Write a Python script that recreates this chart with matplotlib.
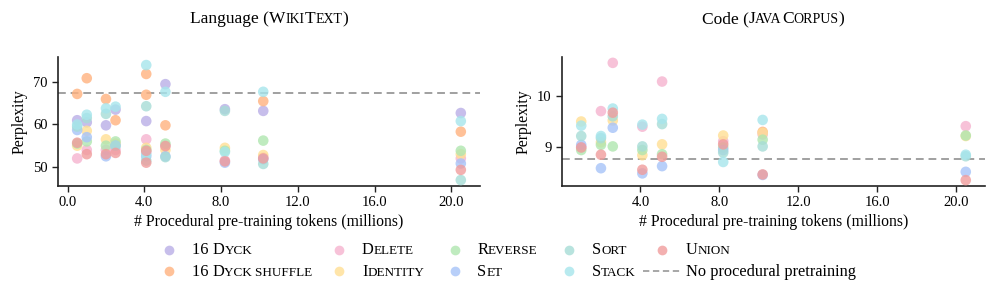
import numpy as np
import matplotlib
matplotlib.use("Agg")
import matplotlib.pyplot as plt
from matplotlib.lines import Line2D
from matplotlib.offsetbox import TextArea, HPacker, AnnotationBbox
from matplotlib.ticker import MultipleLocator, FormatStrFormatter

plt.rcParams['font.family'] = ['Liberation Serif', 'DejaVu Serif']

nan = np.nan

# ---- data: Language (WikiText) ----
lang_x = [0.5, 1.0, 2.0, 2.5, 4.1, 4.1, 5.1, 8.2, 10.2, 20.5]
lang_dyck     = [61.0, 60.5, 59.8, 63.5, 60.8, nan, 69.5, 63.6, 63.2, 62.7]
lang_shuffle  = [67.2, 70.9, 66.0, 61.0, 71.9, 67.0, 59.8, nan, 65.5, 58.3]
lang_delete   = [52.0, 54.0, 54.0, 54.0, 56.5, 53.5, 55.0, 51.5, 52.2, 52.0]
lang_identity = [55.0, 58.5, 56.5, 55.5, 54.5, nan, 54.0, 54.5, 52.8, 53.0]
lang_reverse  = [55.5, 56.0, 55.0, 56.0, 54.0, nan, 55.5, 53.8, 56.2, 53.8]
lang_set      = [58.7, 57.0, 52.5, 55.0, 52.5, nan, 52.5, 51.0, 51.8, 50.8]
lang_sort     = [59.5, 61.5, 62.5, 55.0, 64.3, 51.5, 52.3, 63.2, 50.7, 46.9]
lang_stack    = [60.0, 62.3, 63.8, 64.2, 74.0, 53.0, 67.7, 53.5, 67.7, 60.8]
lang_union    = [55.7, 53.0, 53.0, 53.3, 53.8, 51.0, 54.9, 51.3, 52.0, 49.3]
lang_baseline = 67.3

# ---- data: Code (JavaCorpus) ----
code_x = [1.0, 2.0, 2.6, 4.1, 5.1, 8.2, 10.2, 20.5]
code_dyck     = [nan, nan, nan, nan, nan, nan, nan, nan]
code_shuffle  = [nan, nan, nan, nan, nan, nan, 9.30, nan]
code_delete   = [9.00, 9.70, 10.63, 9.40, 10.27, 9.12, 9.25, 9.41]
code_identity = [9.50, 9.10, 9.52, 8.85, 9.06, 9.23, 9.28, 9.22]
code_reverse  = [8.95, 9.05, 9.02, 8.95, 8.87, 9.00, 9.15, 9.23]
code_set      = [9.05, 8.60, 9.38, 8.50, 8.64, 8.95, 8.47, 8.53]
code_sort     = [9.22, 9.18, 9.60, 9.02, 9.45, 8.90, 9.02, 8.83]
code_stack    = [9.42, 9.22, 9.75, 9.44, 9.55, 8.72, 9.53, 8.86]
code_union    = [9.00, 8.86, 9.67, 8.57, 8.82, 9.06, 8.48, 8.37]
code_baseline = 8.78

# {...} marks the part set in small caps
names = ["16 {Dyck}", "16 {Dyck shuffle}", "{Delete}", "{Identity}", "{Reverse}",
         "{Set}", "{Sort}", "{Stack}", "{Union}"]
colors = ["#b9aee6", "#ffb27f", "#f5b3cf", "#ffdf94", "#b0e6b0",
          "#a6c3f8", "#a6dcd6", "#a6e5ec", "#f09c9c"]

lang_series = [lang_dyck, lang_shuffle, lang_delete, lang_identity, lang_reverse,
               lang_set, lang_sort, lang_stack, lang_union]
code_series = [code_dyck, code_shuffle, code_delete, code_identity, code_reverse,
               code_set, code_sort, code_stack, code_union]

ALPHA = 0.8
W, H = 996, 299
SC = 0.8


def smallcaps(s, size):
    # text inside {} : lowercase letters -> uppercase at smaller size
    kids = []
    sc = False
    buf = ""
    low = None

    def flush(txt, small):
        if txt:
            fs = size * SC if small else size
            kids.append(TextArea(txt.upper() if small else txt,
                                 textprops=dict(fontsize=fs)))

    for ch in s:
        if ch in "{}":
            flush(buf, low)
            buf, low = "", None
            sc = ch == "{"
            continue
        small = sc and (ch.islower() or (ch == " " and low))
        if low is None or small == low:
            buf += ch
            low = small
        else:
            flush(buf, low)
            buf, low = ch, small
    flush(buf, low)
    return HPacker(children=kids, align="baseline", pad=0, sep=0)


def put(fig, box, x, y, align=(0, 0.5)):
    ab = AnnotationBbox(box, (x, H - y), xycoords="figure pixels",
                        box_alignment=align, frameon=False, pad=0)
    fig.add_artist(ab)


fig = plt.figure(figsize=(W / 100, H / 100), dpi=100)
ax1 = fig.add_axes([58 / W, 1 - 186 / H, 422 / W, 129 / H])
ax2 = fig.add_axes([562 / W, 1 - 186 / H, 423 / W, 129 / H])

for ax, xs, series, base in [(ax1, lang_x, lang_series, lang_baseline),
                             (ax2, code_x, code_series, code_baseline)]:
    for ys, c in zip(series, colors):
        ax.scatter(xs, ys, s=58, color=c, alpha=ALPHA, edgecolors="none", zorder=3)
    ax.axhline(base, color="#a0a0a0", lw=1.4, ls=(0, (4, 2.5)), zorder=2)
    for sp in ["top", "right"]:
        ax.spines[sp].set_visible(False)
    for sp in ["left", "bottom"]:
        ax.spines[sp].set_linewidth(1.2)
        ax.spines[sp].set_color("#222222")
    ax.xaxis.set_major_locator(MultipleLocator(4))
    ax.xaxis.set_major_formatter(FormatStrFormatter("%.1f"))
    ax.tick_params(labelsize=10.5, length=4, width=1.0, color="#222222")
    ax.set_xlabel("# Procedural pre-training tokens (millions)", fontsize=11.3, labelpad=3)
    ax.set_ylabel("Perplexity", fontsize=11.3, labelpad=4)

ax1.set_ylim(45.5, 75.9)
ax1.yaxis.set_major_locator(MultipleLocator(10))
ax2.yaxis.set_major_locator(MultipleLocator(1))

put(fig, smallcaps("Language ({WikiText})", 12.5), 269, 19, (0.5, 0.5))
put(fig, smallcaps("Code ({JavaCorpus})", 12.5), 773, 19, (0.5, 0.5))

# custom legend (two rows, five columns)
col_mx = [169, 339, 455, 569, 662]
col_tx = [192, 362, 477, 592, 686]
row_y = [249.5, 271]
order = [(0, 0), (0, 1), (1, 0), (1, 1), (2, 0), (2, 1), (3, 0), (3, 1), (4, 0)]
for (col, row), name, c in zip(order, names, colors):
    fig.add_artist(Line2D([col_mx[col] / W], [1 - row_y[row] / H], marker="o",
                          ms=7, color=c, alpha=ALPHA, mec="none", ls="none",
                          transform=fig.transFigure))
    put(fig, smallcaps(name, 11.8), col_tx[col], row_y[row] + 0.5)
fig.add_artist(Line2D([643 / W, 682 / W], [1 - 271 / H] * 2, color="#a0a0a0",
                      lw=1.3, ls=(0, (3.5, 2)), transform=fig.transFigure))
put(fig, TextArea("No procedural pretraining", textprops=dict(fontsize=11.8)), 686, 271.5)

fig.savefig("out.png", dpi=100)
